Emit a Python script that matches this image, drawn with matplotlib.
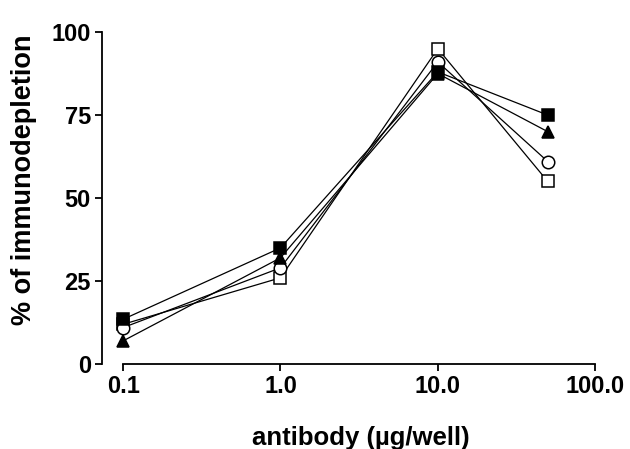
import numpy as np
import matplotlib
matplotlib.use("Agg")
import matplotlib.pyplot as plt

# antibody dose (ug/well) and % immunodepletion
dose = [0.1, 1.0, 10.0, 50.0]
filled_square = [13.5, 35, 88, 75]
filled_triangle = [7, 32, 87.5, 70]
open_circle = [11, 29, 91, 61]
open_square = [12, 26, 95, 55]

xticks = [0.1, 1.0, 10.0, 100.0]
xtick_labels = ["0.1", "1.0", "10.0", "100.0"]
yticks = [0, 25, 50, 75, 100]

plt.rcParams['font.family'] = ['Liberation Sans', 'DejaVu Sans']
plt.rcParams['font.weight'] = 'bold'

fig = plt.figure(figsize=(6.3, 4.49), dpi=100)
ax = fig.add_axes([0.162, 0.189, 0.79, 0.747])

line_kw = dict(color='black', lw=0.9, ms=9, mew=1.1, mec='black')
ax.plot(dose, open_square, marker='s', mfc='white', zorder=3, **line_kw)
ax.plot(dose, open_circle, marker='o', mfc='white', zorder=4, **line_kw)
ax.plot(dose, filled_triangle, marker='^', mfc='black', zorder=5, **line_kw)
ax.plot(dose, filled_square, marker='s', mfc='black', zorder=6, **line_kw)

ax.set_xscale('log')
ax.set_xlim(0.0735, 107)
ax.set_ylim(0, 101)
ax.set_xticks(xticks)
ax.set_xticklabels(xtick_labels)
ax.xaxis.set_minor_locator(matplotlib.ticker.NullLocator())
ax.set_yticks(yticks)

ax.spines['top'].set_visible(False)
ax.spines['right'].set_visible(False)
ax.spines['bottom'].set_bounds(0.1, 100)
ax.spines['left'].set_bounds(0, 100)
for s in ('left', 'bottom'):
    ax.spines[s].set_linewidth(1.3)
ax.tick_params(direction='out', length=5, width=1.3, labelsize=17, pad=3)

ax.set_xlabel('antibody (\u00b5g/well)', fontsize=18.5, fontweight='bold')
ax.xaxis.set_label_coords(0.52, -0.183)
ax.set_ylabel('% of immunodepletion', fontsize=19.5, fontweight='bold')
ax.yaxis.set_label_coords(-0.13, 0.55)

fig.savefig('out.png', dpi=100)
